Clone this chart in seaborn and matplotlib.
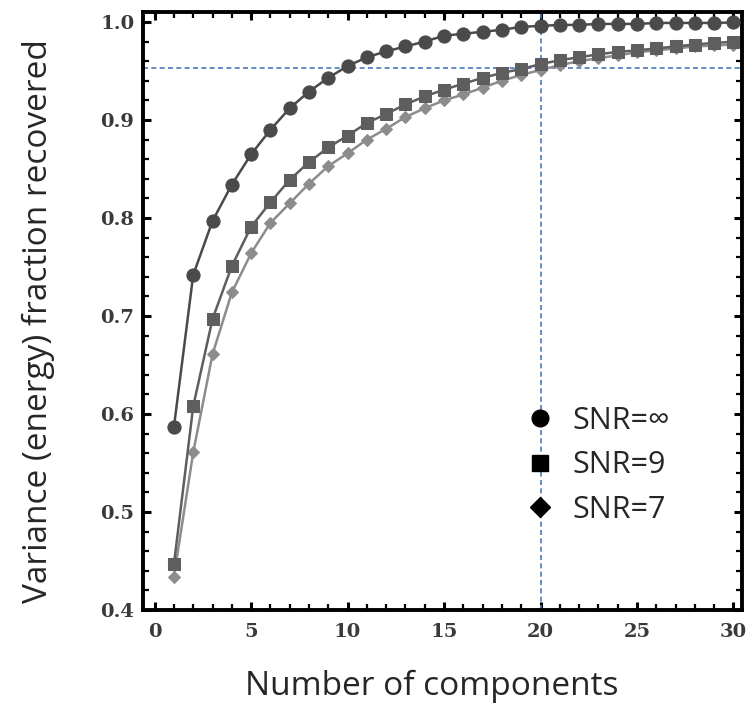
import numpy as np
import pandas as pd
import matplotlib
matplotlib.use("Agg")
import matplotlib.pyplot as plt
from matplotlib.lines import Line2D
from matplotlib.ticker import MultipleLocator
import seaborn as sns

components = list(range(1, 31))
snr_inf = [0.587, 0.742, 0.797, 0.834, 0.865, 0.890, 0.912, 0.929, 0.943, 0.955,
           0.964, 0.970, 0.975, 0.980, 0.986, 0.988, 0.990, 0.992, 0.995, 0.996,
           0.997, 0.997, 0.998, 0.998, 0.998, 0.999, 0.999, 0.999, 0.999, 0.9995]
snr_9 = [0.447, 0.608, 0.697, 0.751, 0.791, 0.816, 0.839, 0.857, 0.872, 0.884,
         0.897, 0.906, 0.916, 0.924, 0.931, 0.937, 0.943, 0.948, 0.952, 0.957,
         0.961, 0.964, 0.967, 0.9695, 0.971, 0.973, 0.975, 0.977, 0.9787, 0.9797]
snr_7 = [0.434, 0.561, 0.661, 0.724, 0.764, 0.795, 0.815, 0.835, 0.853, 0.866,
         0.880, 0.891, 0.903, 0.912, 0.920, 0.926, 0.933, 0.940, 0.946, 0.951,
         0.956, 0.960, 0.963, 0.966, 0.969, 0.971, 0.973, 0.975, 0.976, 0.977]
series_names = ["SNR=\u221e", "SNR=9", "SNR=7"]
threshold = 0.953
threshold_components = 20
x_ticks = [0, 5, 10, 15, 20, 25, 30]
y_ticks = [0.4, 0.5, 0.6, 0.7, 0.8, 0.9, 1.0]

df = pd.DataFrame({
    "components": components * 3,
    "fraction": snr_inf + snr_9 + snr_7,
    "series": [series_names[0]] * 30 + [series_names[1]] * 30 + [series_names[2]] * 30,
})

sns.set_style("white")
plt.rcParams["font.family"] = ["DejaVu Sans"]

fig = plt.figure(figsize=(7.55, 7.04), dpi=100)
ax = fig.add_axes([0.189, 0.1335, 0.794, 0.8495])

line_colors = {series_names[0]: "#4a4a4a", series_names[1]: "#5e5e5e", series_names[2]: "#8c8c8c"}
marker_styles = {series_names[0]: "o", series_names[1]: "s", series_names[2]: "D"}
sizes = {series_names[0]: 9.5, series_names[1]: 8, series_names[2]: 6.5}

# dashed guides (behind)
ax.axhline(threshold, color="#4a7cc0", lw=1.2, ls=(0, (3, 2)), zorder=1)
ax.axvline(threshold_components, color="#4a7cc0", lw=1.2, ls=(0, (3, 2)), zorder=1)

for name in series_names[::-1]:
    sub = df[df["series"] == name]
    sns.lineplot(data=sub, x="components", y="fraction", ax=ax, color=line_colors[name],
                 marker=marker_styles[name], markersize=sizes[name],
                 markeredgecolor=line_colors[name], markerfacecolor=line_colors[name],
                 linewidth=1.8, legend=False, zorder=3)

ax.set_xlim(-0.62, 30.45)
ax.set_ylim(0.4, 1.0102)
ax.set_xticks(x_ticks)
ax.set_yticks(y_ticks)
ax.set_yticklabels([f"{v:.1f}" for v in y_ticks])
ax.xaxis.set_minor_locator(MultipleLocator(1))
ax.yaxis.set_minor_locator(MultipleLocator(0.02))
ax.tick_params(which="both", direction="in", top=True, right=True, bottom=True, left=True,
               color="black")
ax.tick_params(which="major", length=6, width=2.2, labelsize=14, labelcolor="#3a3a3a", pad=6)
ax.tick_params(axis="x", which="major", pad=9)
ax.tick_params(which="minor", length=4, width=1.6)
for lab in ax.get_xticklabels() + ax.get_yticklabels():
    lab.set_family(["DejaVu Serif"])
    lab.set_fontweight("bold")

for sp in ax.spines.values():
    sp.set_visible(True)
    sp.set_color("black")
    sp.set_linewidth(2.8)

ax.set_xlabel("Number of components", family=["Open Sans"], fontsize=24)
ax.set_ylabel("Variance (energy) fraction recovered", family=["Open Sans"], fontsize=24)
ax.xaxis.set_label_coords(0.482, -0.100)
ax.yaxis.set_label_coords(-0.146, 0.483)

handles = [Line2D([], [], ls="none", marker="o", color="black", markersize=12),
           Line2D([], [], ls="none", marker="s", color="black", markersize=11.5),
           Line2D([], [], ls="none", marker="D", color="black", markersize=10)]
leg = ax.legend(handles, series_names, loc="upper left", bbox_to_anchor=(0.591, 0.387),
                frameon=False, prop={"family": ["Open Sans", "DejaVu Sans"], "size": 22},
                handletextpad=0.58, labelspacing=0.47, handlelength=1.0)

fig.savefig("out.png", dpi=100)
